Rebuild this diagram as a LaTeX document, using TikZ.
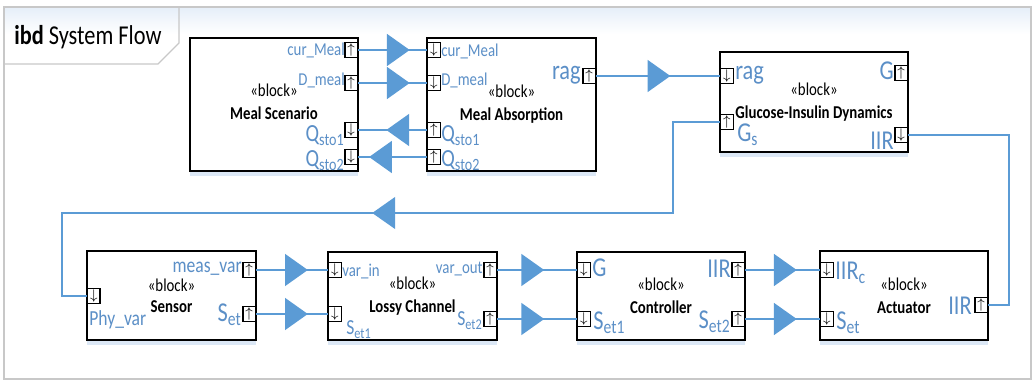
\documentclass[tikz,border=0pt]{standalone}
\usepackage{fontspec}
\setmainfont{Carlito}[FakeStretch=0.82]
\usetikzlibrary{arrows.meta,decorations.markings,shadows,positioning}
\definecolor{flowblue}{HTML}{5B9BD5}
\definecolor{textblue}{HTML}{5B8FC7}
\definecolor{framegray}{HTML}{C8C8C8}
\definecolor{glowblue}{HTML}{DCE8F6}
\tikzset{
  block/.style 2 args={draw, line width=1.1pt, fill=white, align=center, inner sep=0pt,
    minimum width=#1*0.02cm, minimum height=#2*0.02cm, font=\fontsize{10.3}{12}\selectfont,
    drop shadow={shadow xshift=0pt, shadow yshift=-3pt, fill=glowblue, opacity=1}},
  port/.style={draw, line width=0.7pt, fill=white, inner sep=0pt,
    minimum width=0.25cm, minimum height=0.29cm, font=\fontsize{8}{8}\selectfont},
  lbl/.style={text=textblue, inner sep=0pt, font=\fontsize{10.3}{12}\selectfont},
  lblm/.style={lbl, font=\fontsize{12.2}{14}\selectfont},
  lblb/.style={lbl, font=\fontsize{15.5}{17}\selectfont},
  lblq/.style={lbl, font=\fontsize{14}{16}\selectfont, text height=0.62em, text depth=0.3em},
  flow/.style={draw=flowblue, line width=1.7pt},
  link/.style={draw=flowblue, line width=1.1pt},
  midarrow/.style={postaction={decorate, decoration={markings,
    mark=at position #1 with {\arrow{Triangle[length=13pt,width=18pt,color=flowblue]}}}}}
}
\begin{document}
\begin{tikzpicture}[x=0.02cm,y=-0.02cm]
  \useasboundingbox (0,0) rectangle (1034,381);
  % Khung ngoai va the tieu de
  \shade[top color=glowblue!70, bottom color=white] (5,8) rectangle (1030,34);
  \draw[framegray, line width=1.2pt] (4,7) rectangle (1031,379);
  \draw[framegray, line width=0.8pt] (4,64) -- (158,64) -- (179,43) -- (179,7);
  \node[anchor=base west, inner sep=0pt, font=\fontsize{15.5}{17}\selectfont] (title) at (14,45) {\textbf{ibd} System Flow};
  % Cac khoi
  \node[block={168}{133}, text depth=3pt] (ms) at (274,104.5) {«block»\\[1pt]\textbf{Meal Scenario}};
  \node[block={169}{133}] (ma) at (511.5,104.5) {«block»\\[1pt]\textbf{Meal Absorption}};
  \node[block={188}{100}] (gid) at (814,102) {«block»\\[1pt]\textbf{Glucose-Insulin Dynamics}};
  \node[block={169}{89}] (sen) at (171.5,295.5) {«block»\\[0pt]\textbf{Sensor}};
  \node[block={169}{88}] (lc) at (412.5,296) {«block»\\[1pt]\textbf{Lossy Channel}};
  \node[block={168}{88}] (ctl) at (661,296) {«block»\\[1pt]\textbf{Controller}};
  \node[block={168}{89}] (act) at (904,295.5) {«block»\\[1pt]\textbf{Actuator}};
  % Cong ben phai va ben trai
  \foreach \n/\x/\y/\dir in {ms-cur/358/50/\uparrow, ms-dm/358/83/\uparrow, ms-q1/358/130/\downarrow,
      ms-q2/358/157/\downarrow, ma-rag/596/76/\uparrow, gid-g/908/73/\uparrow, gid-iir/908/135/\downarrow,
      sen-meas/256/270/\uparrow, sen-set/256/314/\uparrow, lc-out/497/270/\uparrow, lc-set2/497/319/\uparrow,
      ctl-iir/745/270/\uparrow, ctl-s2/745/319/\uparrow, act-iir/988/305/\uparrow}
    \node[port, anchor=east] (\n) at (\x,\y) {$\dir$};
  \foreach \n/\x/\y/\dir in {ma-cur/427/50/\downarrow, ma-dm/427/83/\downarrow, ma-q1/427/130/\uparrow,
      ma-q2/427/157/\uparrow, gid-rag/720/76/\downarrow, gid-gs/720/122/\uparrow, sen-phy/87/296/\downarrow,
      lc-in/328/270/\downarrow, lc-set/328/314/\downarrow, ctl-g/577/270/\downarrow, ctl-s1/577/319/\downarrow,
      act-iirc/820/270/\downarrow, act-set/820/319/\downarrow}
    \node[port, anchor=west] (\n) at (\x,\y) {$\dir$};
  % Nhan cua cong
  \node[lbl, anchor=east] (l-ms-cur) at (345,50) {cur\_Meal};
  \node[lbl, anchor=east] (l-ms-dm) at (345,80) {D\_meal};
  \node[lblq, anchor=base east] (l-ms-q1) at (345,142) {Q\textsubscript{sto1}};
  \node[lblq, anchor=base east] (l-ms-q2) at (345,167) {Q\textsubscript{sto2}};
  \node[lbl, anchor=west] (l-ma-cur) at (441,51) {cur\_Meal};
  \node[lbl, anchor=west] (l-ma-dm) at (441,80) {D\_meal};
  \node[lblq, anchor=base west] (l-ma-q1) at (441,142) {Q\textsubscript{sto1}};
  \node[lblq, anchor=base west] (l-ma-q2) at (441,167) {Q\textsubscript{sto2}};
  \node[lblb, anchor=base east] (l-ma-rag) at (581,80) {rag};
  \node[lblb, anchor=base west] (l-gid-rag) at (735,80) {rag};
  \node[lblb, anchor=base east] (l-gid-g) at (894,80) {G};
  \node[lblb, anchor=base west] (l-gid-gs) at (737,142) {G\textsubscript{s}};
  \node[lblb, anchor=base east] (l-gid-iir) at (894,150) {IIR};
  \node[lblm, anchor=base west] (l-sen-phy) at (89,326) {Phy\_var};
  \node[lblm, anchor=base east] (l-sen-meas) at (242,273) {meas\_var};
  \node[lblb, anchor=base east] (l-sen-set) at (242,322) {S\textsubscript{et}};
  \node[lbl, anchor=base west] (l-lc-in) at (342,277) {var\_in};
  \node[lbl, anchor=base east] (l-lc-out) at (483,274) {var\_out};
  \node[lblm, anchor=base west] (l-lc-set) at (346,335) {S\textsubscript{et1}};
  \node[lblm, anchor=base east] (l-lc-set2) at (483,326) {S\textsubscript{et2}};
  \node[lblb, anchor=base west] (l-ctl-g) at (592,277) {G};
  \node[lblb, anchor=base west] (l-ctl-s1) at (593,330) {S\textsubscript{et1}};
  \node[lblb, anchor=base east] (l-ctl-iir) at (731,278) {IIR};
  \node[lblb, anchor=base east] (l-ctl-s2) at (731,329) {S\textsubscript{et2}};
  \node[lblb, anchor=base west] (l-act-iirc) at (835,280) {IIR\textsubscript{c}};
  \node[lblb, anchor=base west] (l-act-set) at (836,330) {S\textsubscript{et}};
  \node[lblb, anchor=base east] (l-act-iir) at (972,315) {IIR};
  % Cac duong noi
  \draw[flow, midarrow=0.75] (ms-cur) -- (ma-cur);
  \draw[flow, midarrow=0.75] (ms-dm) -- (ma-dm);
  \draw[flow, midarrow=0.59] (ma-q1) -- (ms-q1);
  \draw[flow, midarrow=0.84] (ma-q2) -- (ms-q2);
  \draw[flow, midarrow=0.6] (ma-rag) -- (gid-rag);
  \coordinate (gs-turn) at (673,213);
  \coordinate (phy-turn) at (62,213);
  \draw[link, midarrow=0.512] (gid-gs.west) -| (gs-turn) -- (phy-turn) |- (sen-phy.west);
  \coordinate (iir-bot) at (1009,305);
  \draw[link] (gid-iir.east) -| (iir-bot) -- (act-iir.east);
  \draw[flow, midarrow=0.72] (sen-meas) -- (lc-in);
  \draw[flow, midarrow=0.72] (sen-set) -- (lc-set);
  \draw[flow, midarrow=0.59] (lc-out) -- (ctl-g);
  \draw[flow, midarrow=0.59] (lc-set2) -- (ctl-s1);
  \draw[flow, midarrow=0.69] (ctl-iir) -- (act-iirc);
  \draw[flow, midarrow=0.69] (ctl-s2) -- (act-set);
\end{tikzpicture}
\end{document}
